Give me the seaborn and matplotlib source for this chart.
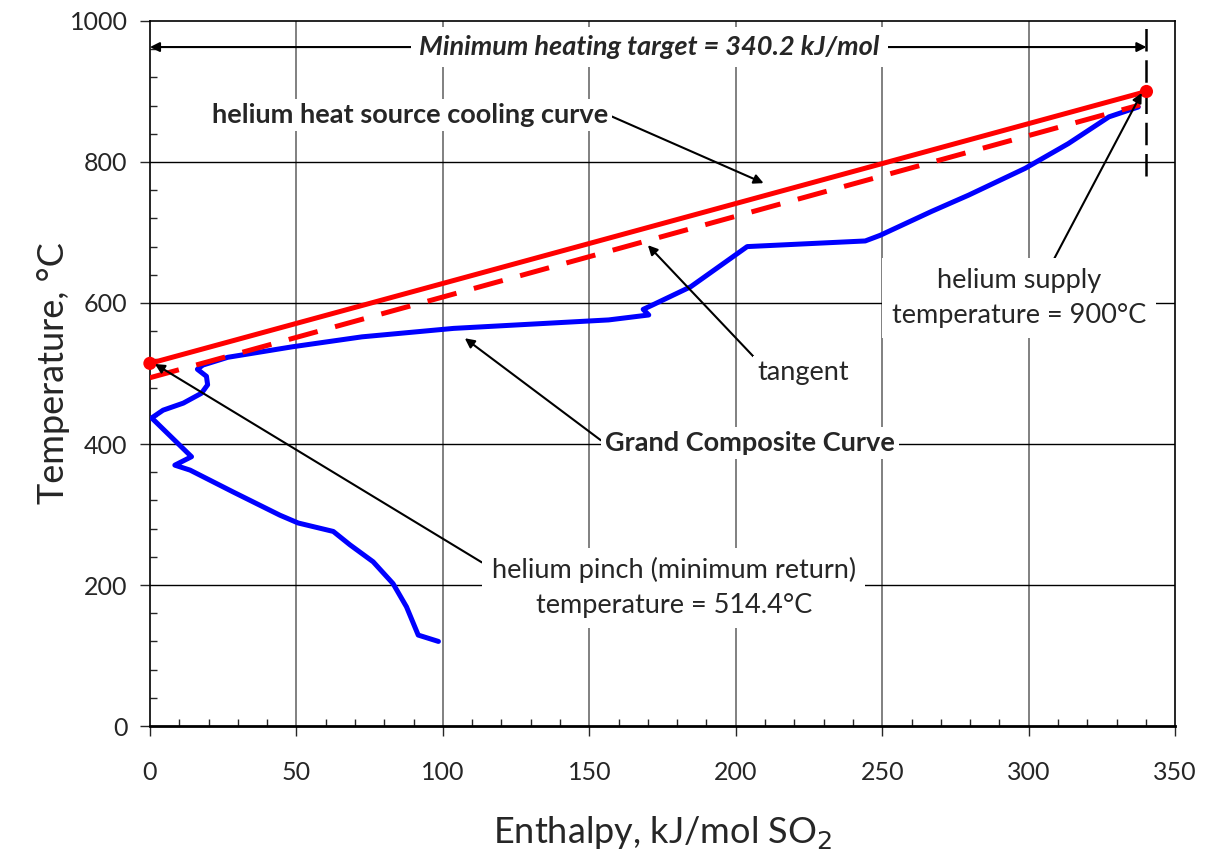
import numpy as np
import pandas as pd
import matplotlib
matplotlib.use("Agg")
import matplotlib.pyplot as plt
import seaborn as sns

# ---- data ----
gcc_enthalpy = [98.5, 91.6, 87.6, 83.0, 76.2, 68.3, 62.6, 50.6, 44.4, 28.4, 13.7, 8.5, 14.2,
                0.6, 4.5, 11.4, 17.6, 19.7, 19.3, 16.2, 18.1, 26.6, 48.8, 72.4, 103.7, 156.6,
                170.3, 168.4, 171.5, 184.6, 195.1, 203.9, 244.2, 249.3, 266.9, 279.5, 298.8,
                313.5, 327.4, 337.4]
gcc_temperature = [120, 129, 169, 202, 233, 257, 276, 288, 299, 332, 363, 370, 382,
                   437, 448, 458, 472, 484, 496, 506, 512, 523, 538, 552, 564, 576,
                   583, 591, 597, 623, 654, 680, 688, 696, 730, 753, 791,
                   826, 864, 878]
helium_enthalpy = [0.0, 340.2]
helium_temperature = [514.4, 900.0]
tangent_enthalpy = [0.0, 338.0]
tangent_temperature = [494.0, 881.0]
heating_target = 340.2

x_ticks = [0, 50, 100, 150, 200, 250, 300, 350]
y_ticks = [0, 200, 400, 600, 800, 1000]

sns.set_style("white")
plt.rcParams['font.family'] = ['Lato', 'DejaVu Sans']

fig = plt.figure(figsize=(12.09, 8.63), dpi=100)
ax = fig.add_axes([0.124, 0.1587, 0.848, 0.817])

gcc = pd.DataFrame({"H": gcc_enthalpy, "T": gcc_temperature})
he = pd.DataFrame({"H": helium_enthalpy, "T": helium_temperature})
tg = pd.DataFrame({"H": tangent_enthalpy, "T": tangent_temperature})

ax.set_xlim(0, 350)
ax.set_ylim(0, 1000)

# grid
for xv in x_ticks[1:-1]:
    ax.axvline(xv, color="#808080", lw=1.4, zorder=0)
for yv in y_ticks[1:-1]:
    ax.axhline(yv, color="black", lw=1.0, zorder=0)

sns.lineplot(data=gcc, x="H", y="T", sort=False, color="#0000ff", lw=3.6, ax=ax, zorder=3)
sns.lineplot(data=he, x="H", y="T", sort=False, color="#ff0000", lw=3.6, ax=ax, zorder=4)
sns.lineplot(data=tg, x="H", y="T", sort=False, color="#ff0000", lw=3.6, ax=ax, zorder=5,
             dashes=False, linestyle=(0, (6, 3.6)))
sns.scatterplot(data=he, x="H", y="T", color="#ff0000", s=90, edgecolor="none", ax=ax, zorder=6,
                clip_on=False)

# vertical dashed line at heating target
ax.plot([heating_target, heating_target], [780, 1000], color="black", lw=1.8,
        dashes=(9, 3.5), zorder=2)

FS = 19.5

# double arrow for heating target
ax.annotate("", xy=(0, 963), xytext=(heating_target, 963),
            arrowprops=dict(arrowstyle="<|-|>", color="black", lw=1.5, mutation_scale=14,
                            shrinkA=0, shrinkB=0), zorder=3)
ax.text(170.5, 963, "Minimum heating target = 340.2 kJ/mol", ha="center", va="center",
        fontsize=FS, fontweight="bold", fontstyle="italic",
        bbox=dict(facecolor="white", edgecolor="none", pad=6), zorder=4)

bbox_kw = dict(facecolor="white", edgecolor="none", pad=3)

ax.annotate("helium heat source cooling curve", xy=(209.5, 770), xytext=(88.7, 867),
            ha="center", va="center", fontsize=FS, fontweight="bold",
            arrowprops=dict(arrowstyle="-|>", color="black", lw=1.5, mutation_scale=14,
                            shrinkA=0, shrinkB=0, relpos=(1.0, 0.5)),
            bbox=bbox_kw, zorder=7)
ax.annotate("tangent", xy=(170.0, 682), xytext=(222.9, 501),
            ha="center", va="center", fontsize=FS,
            arrowprops=dict(arrowstyle="-|>", color="black", lw=1.5, mutation_scale=14,
                            shrinkA=0, shrinkB=0, relpos=(0.0, 1.0)),
            bbox=bbox_kw, zorder=7)
ax.annotate("Grand Composite Curve", xy=(107.5, 550), xytext=(204.8, 401),
            ha="center", va="center", fontsize=FS, fontweight="bold",
            arrowprops=dict(arrowstyle="-|>", color="black", lw=1.5, mutation_scale=14,
                            shrinkA=0, shrinkB=0, relpos=(0.0, 0.5)),
            bbox=bbox_kw, zorder=7)
ax.annotate("helium pinch (minimum return)\ntemperature = 514.4°C", xy=(1.7, 513.5),
            xytext=(178.8, 196), ha="center", va="center", fontsize=FS, linespacing=1.5,
            arrowprops=dict(arrowstyle="-|>", color="black", lw=1.5, mutation_scale=14,
                            shrinkA=0, shrinkB=0, relpos=(0.0, 0.82)),
            bbox=dict(facecolor="white", edgecolor="none", pad=7), zorder=7)
ax.annotate("helium supply\ntemperature = 900°C", xy=(338.6, 898), xytext=(296.6, 607),
            ha="center", va="center", fontsize=FS, linespacing=1.5,
            arrowprops=dict(arrowstyle="-|>", color="black", lw=1.5, mutation_scale=14,
                            shrinkA=0, shrinkB=0, relpos=(0.62, 1.0)),
            bbox=dict(facecolor="white", edgecolor="none", pad=7), zorder=7)

# ticks
ax.set_xticks(x_ticks)
ax.set_yticks(y_ticks)
ax.set_xticks(np.arange(0, 351, 10), minor=True)
ax.set_yticks(np.arange(0, 1001, 40), minor=True)
ax.tick_params(axis="both", which="major", direction="out", length=7, width=1, labelsize=18,
               bottom=True, left=True)
ax.tick_params(axis="y", which="major", pad=9)
ax.tick_params(axis="x", which="major", pad=18)
ax.tick_params(axis="both", which="minor", direction="in", length=5, width=1, bottom=True, left=True)

for s in ax.spines.values():
    s.set_color("black")
    s.set_linewidth(1.2)
ax.spines["bottom"].set_linewidth(2.0)

ax.set_xlabel("Enthalpy, kJ/mol SO$_2$", fontsize=26, labelpad=22)
ax.set_ylabel("Temperature, °C", fontsize=26, labelpad=0)

fig.savefig("out.png", dpi=100)
